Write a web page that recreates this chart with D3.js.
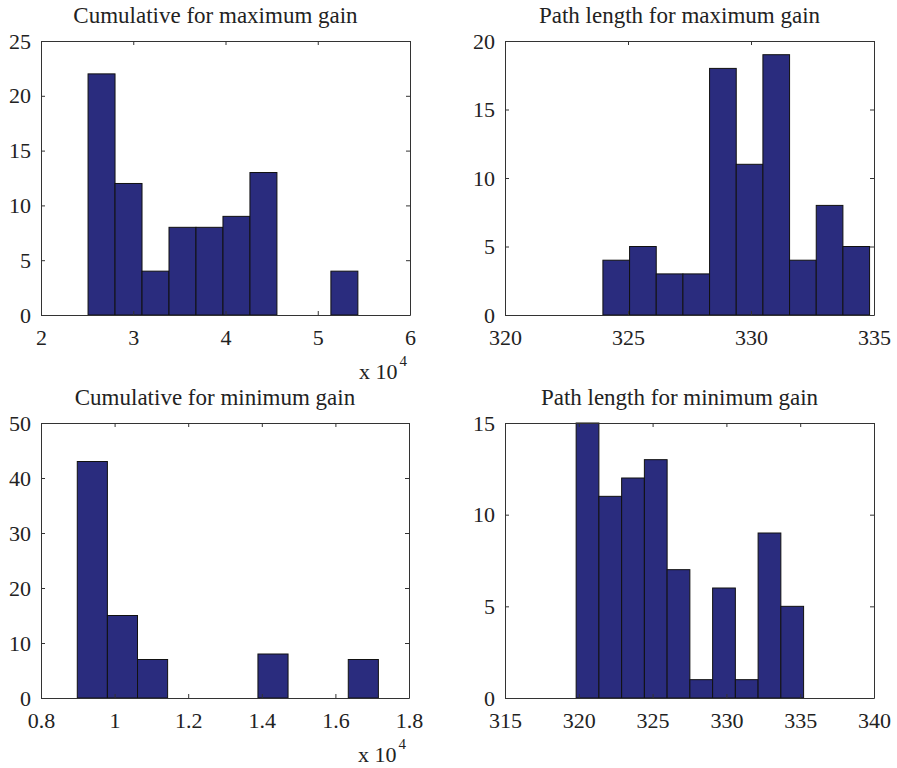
<!DOCTYPE html>
<html>
<head>
<meta charset="utf-8">
<script src="https://cdn.jsdelivr.net/npm/d3@7"></script>
<style>
  body { margin: 0; background: #fff; }
</style>
</head>
<body>
<script>
// histogram data (10 bins each)
var maxGainCumEdges = [2.51, 5.435];          // x 10^4
var maxGainCumCounts = [22, 12, 4, 8, 8, 9, 13, 0, 0, 4];

var maxGainPathEdges = [323.98, 334.82];
var maxGainPathCounts = [4, 5, 3, 3, 18, 11, 19, 4, 8, 5];

var minGainCumEdges = [0.8986, 1.7168];       // x 10^4
var minGainCumCounts = [43, 15, 7, 0, 0, 0, 8, 0, 0, 7];

var minGainPathEdges = [319.82, 335.23];
var minGainPathCounts = [15, 11, 12, 13, 7, 1, 6, 1, 9, 5];

// axis tick labels
var xTicks1 = [2, 3, 4, 5, 6];
var yTicks1 = [0, 5, 10, 15, 20, 25];
var xTicks2 = [320, 325, 330, 335];
var yTicks2 = [0, 5, 10, 15, 20];
var xTicks3 = [0.8, 1, 1.2, 1.4, 1.6, 1.8];
var yTicks3 = [0, 10, 20, 30, 40, 50];
var xTicks4 = [315, 320, 325, 330, 335, 340];
var yTicks4 = [0, 5, 10, 15];

var titles = ["Cumulative for maximum gain", "Path length for maximum gain",
              "Cumulative for minimum gain", "Path length for minimum gain"];

var panels = [
  { title: titles[0], edges: maxGainCumEdges, counts: maxGainCumCounts, xt: xTicks1, yt: yTicks1, exp: true,
    box: [41, 41, 410, 315] },
  { title: titles[1], edges: maxGainPathEdges, counts: maxGainPathCounts, xt: xTicks2, yt: yTicks2, exp: false,
    box: [505, 41, 874, 315] },
  { title: titles[2], edges: minGainCumEdges, counts: minGainCumCounts, xt: xTicks3, yt: yTicks3, exp: true,
    box: [41, 423, 409, 698] },
  { title: titles[3], edges: minGainPathEdges, counts: minGainPathCounts, xt: xTicks4, yt: yTicks4, exp: false,
    box: [505, 423, 874, 698] }
];

var fontFam = "'Liberation Serif'";
var fontSize = 22;
var barColor = "#2a2c7e";

var svg = d3.select("body").append("svg")
  .attr("width", 897)
  .attr("height", 768);

panels.forEach(function (p) {
  var x0 = p.box[0], y0 = p.box[1], x1 = p.box[2], y1 = p.box[3];
  var w = x1 - x0, h = y1 - y0;

  var g = svg.append("g").attr("transform", "translate(" + x0 + "," + y0 + ")");

  var x = d3.scaleLinear().domain(d3.extent(p.xt)).range([0, w]);
  var y = d3.scaleLinear().domain(d3.extent(p.yt)).range([h, 0]);

  // bins: equal width between first and last edge
  var n = p.counts.length;
  var bw = (p.edges[1] - p.edges[0]) / n;
  var bins = p.counts.map(function (c, i) {
    return { x0: p.edges[0] + i * bw, x1: p.edges[0] + (i + 1) * bw, count: c };
  });

  g.selectAll("rect.bar")
    .data(bins.filter(function (d) { return d.count > 0; }))
    .enter().append("rect")
    .attr("class", "bar")
    .attr("x", function (d) { return x(d.x0); })
    .attr("y", function (d) { return y(d.count); })
    .attr("width", function (d) { return x(d.x1) - x(d.x0); })
    .attr("height", function (d) { return h - y(d.count); })
    .attr("fill", barColor)
    .attr("stroke", "#111")
    .attr("stroke-width", 1);

  // axes with inward ticks, MATLAB style
  var fmt = d3.format("~g");
  g.append("g").attr("transform", "translate(0," + h + ")")
    .call(d3.axisBottom(x).tickValues(p.xt).tickFormat(fmt).tickSizeInner(-4).tickSizeOuter(0).tickPadding(14));
  g.append("g")
    .call(d3.axisLeft(y).tickValues(p.yt).tickFormat(fmt).tickSizeInner(-4).tickSizeOuter(0).tickPadding(10));
  g.append("g")
    .call(d3.axisTop(x).tickValues(p.xt).tickFormat("").tickSizeInner(-4).tickSizeOuter(0));
  g.append("g").attr("transform", "translate(" + w + ",0)")
    .call(d3.axisRight(y).tickValues(p.yt).tickFormat("").tickSizeInner(-4).tickSizeOuter(0));

  g.selectAll("g").attr("font-family", null).attr("font-size", null);
  g.selectAll(".domain, .tick line").attr("stroke", "#333");
  g.selectAll(".tick text")
    .style("font-family", fontFam)
    .style("font-size", fontSize + "px")
    .attr("fill", "#222");

  // title
  g.append("text")
    .attr("x", w / 2 - 10)
    .attr("y", -18)
    .attr("text-anchor", "middle")
    .attr("fill", "#222")
    .style("font-family", fontFam)
    .style("font-size", "23px")
    .text(p.title);

  // exponent label
  if (p.exp) {
    var t = g.append("text")
      .attr("x", w - 51)
      .attr("y", h + 64)
      .attr("fill", "#222")
      .style("font-family", fontFam)
      .style("font-size", fontSize + "px");
    t.append("tspan").text("x 10");
    t.append("tspan")
      .attr("dy", -13)
      .attr("dx", 2)
      .style("font-size", "15px")
      .text("4");
  }
});
</script>
</body>
</html>
